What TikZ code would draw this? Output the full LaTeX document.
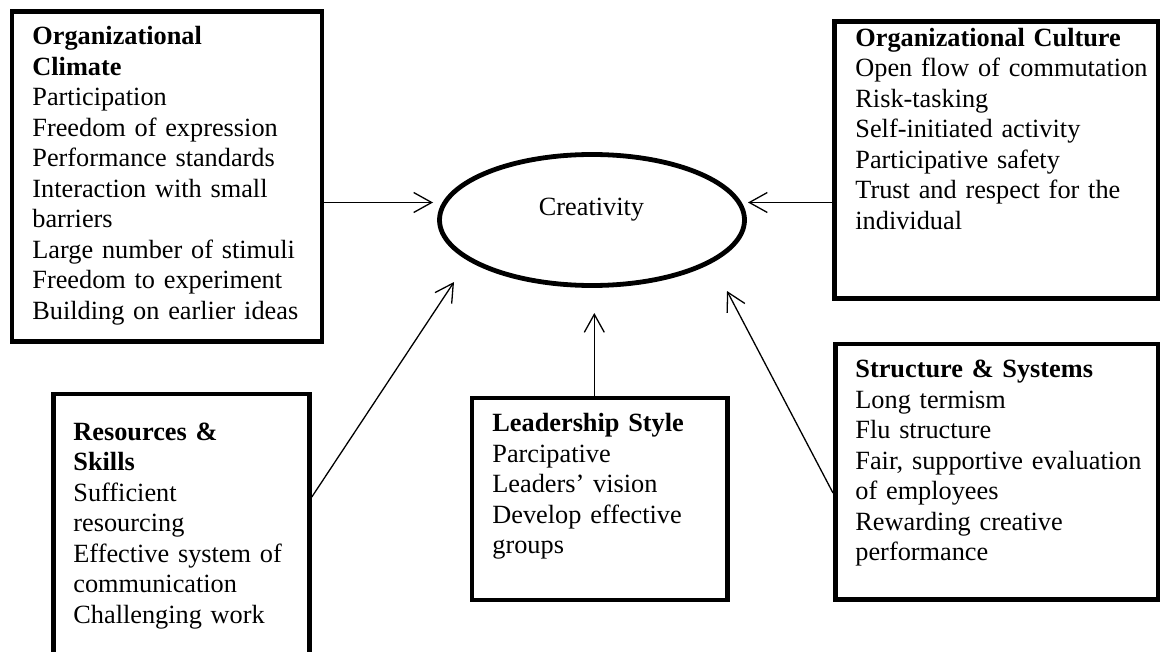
\documentclass[tikz,border=0pt]{standalone}
\usepackage{fontspec}
\setmainfont{Liberation Serif}
\usetikzlibrary{arrows.meta,positioning,shapes.geometric}

\begin{document}
\begin{tikzpicture}[x=0.5pt,y=-0.5pt,
    panel/.style={draw,line width=2.4pt,inner sep=0pt,anchor=north west},
    item/.style={anchor=base west,inner sep=0pt,text width=165pt,align=left,
      font=\fontsize{13.15}{15.25}\selectfont},
    flow/.style={line width=0.65pt,-{Straight Barb[length=9pt,width=10pt]}}]
  \path[use as bounding box] (0,0) rectangle (1160,652);
  \clip (0,0) rectangle (1160,652);

  % centre
  \node[draw,ellipse,line width=2.4pt,minimum width=152.5pt,minimum height=65.5pt] (creativity) at (592,220) {};
  \node[anchor=base,inner sep=0pt,font=\fontsize{13.15}{15.25}\selectfont] (creativity-text) at (591.5,215) {Creativity};

  % factor boxes
  \node[panel,minimum width=155pt,minimum height=164.75pt] (climate) at (9.5,9.5) {};
  \node[panel,minimum width=161.75pt,minimum height=138.25pt] (culture) at (832,19.5) {};
  \node[panel,minimum width=128pt,minimum height=145pt] (resources) at (51,391.5) {};
  \node[panel,minimum width=127.75pt,minimum height=101pt] (leadership) at (469.5,395.5) {};
  \node[panel,minimum width=161.25pt,minimum height=127.75pt] (structure) at (833,341.5) {};

  \node[item] (climate-text) at (32,45) {\textbf{Organizational}\\\textbf{Climate}\\Participation\\Freedom of expression\\Performance standards\\Interaction with small\\barriers\\Large number of stimuli\\Freedom to experiment\\Building on earlier ideas};
  \node[item] (culture-text) at (855,46.5) {\textbf{Organizational Culture}\\Open flow of commutation\\Risk-tasking\\Self-initiated activity\\Participative safety\\Trust and respect for the\\individual};
  \node[item] (resources-text) at (73,440) {\textbf{Resources \&}\\\textbf{Skills}\\Sufficient\\resourcing\\Effective system of\\communication\\Challenging work};
  \node[item] (leadership-text) at (492,431.5) {\textbf{Leadership Style}\\Parcipative\\Leaders’ vision\\Develop effective\\groups};
  \node[item] (structure-text) at (855,377.5) {\textbf{Structure \& Systems}\\Long termism\\Flu structure\\Fair, supportive evaluation\\of employees\\Rewarding creative\\performance};

  % arrow tips short of the ellipse
  \coordinate (tip-w) at (433,202.5);
  \coordinate (tip-e) at (748,202.5);
  \coordinate (tip-sw) at (454,282);
  \coordinate (tip-s) at (594.3,313);
  \coordinate (tip-se) at (727,291);

  \draw[flow] (tip-w -| climate.east) -- (tip-w);
  \draw[flow] (tip-e -| culture.west) -- (tip-e);
  \draw[flow] ([yshift=-52.75pt]resources.north east) -- (tip-sw);
  \draw[flow] (leadership.north -| tip-s) -- (tip-s);
  \draw[flow] ([yshift=-75.75pt]structure.north west) -- (tip-se);
\end{tikzpicture}
\end{document}
